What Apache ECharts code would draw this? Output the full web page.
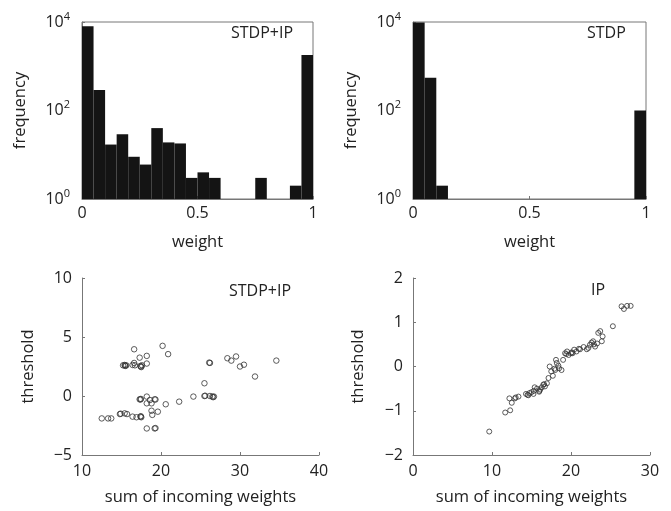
<!DOCTYPE html>
<html><head><meta charset="utf-8">
<script src="https://cdn.jsdelivr.net/npm/echarts@6/dist/echarts.min.js"></script>
<style>html,body{margin:0;padding:0;background:#fff}#c{width:671px;height:511px}</style>
</head><body><div id="c"></div>
<script>
// ---- data ----
var binLefts = [0,0.05,0.1,0.15,0.2,0.25,0.3,0.35,0.4,0.45,0.5,0.55,0.6,0.65,0.7,0.75,0.8,0.85,0.9,0.95];
var binWidth = 0.05;
var countsStdpIp = [8000,290,17,29,9,6,40,19,18,3,4,3,0,0,0,3,0,0,2,1800];
var countsStdp   = [9800,550,2,0,0,0,0,0,0,0,0,0,0,0,0,0,0,0,0,100];

var stdpIpSum = [15.2,15.4,15.5,15.6,15.45,16.4,16.6,16.7,17.4,17.5,17.6,17.45,18.2,16.6,17.3,18.2,20.2,20.9,26.1,26.2,28.4,28.9,29.5,30.0,30.5,31.9,34.6,25.5,24.1,25.5,25.6,26.2,26.5,26.6,26.7,22.3,20.6,17.3,17.4,17.45,18.2,18.6,19.2,19.3,18.8,18.2,18.8,19.6,18.9,12.5,13.3,13.7,14.8,14.9,15.4,15.7,16.4,16.9,17.4,17.5,17.45,18.2,19.2,19.3];
var stdpIpThr = [2.6,2.63,2.55,2.6,2.58,2.63,2.8,2.6,2.55,2.45,2.6,2.5,2.75,3.96,3.25,3.4,4.25,3.55,2.83,2.8,3.2,3.0,3.35,2.5,2.65,1.65,3.0,1.08,-0.05,0.0,0.02,0.0,-0.05,-0.1,-0.05,-0.48,-0.7,-0.28,-0.3,-0.25,-0.05,-0.34,-0.28,-0.3,-0.62,-0.62,-1.25,-1.33,-1.6,-1.9,-1.9,-1.9,-1.53,-1.5,-1.47,-1.53,-1.75,-1.8,-1.75,-1.8,-1.72,-2.75,-2.75,-2.72];

var ipSum = [9.65,11.67,12.3,12.2,12.5,12.9,13.35,14.3,14.5,14.75,15.0,15.25,15.4,15.7,15.97,16.1,16.3,16.5,16.7,16.95,17.15,17.3,17.5,17.7,18.0,18.2,18.1,18.5,18.8,19.0,19.25,19.5,19.7,20.1,20.2,20.4,20.7,21.15,21.6,22.0,22.2,22.4,22.6,22.8,23.05,23.45,23.7,24.0,23.9,25.3,26.4,26.7,27.1,27.55,14.6,16.0,16.6,17.9,18.4,19.4,20.0,21.0,22.9,23.3,13.0,15.3];
var ipThr = [-1.47,-1.04,-0.99,-0.72,-0.82,-0.72,-0.68,-0.62,-0.64,-0.6,-0.58,-0.62,-0.47,-0.5,-0.57,-0.52,-0.47,-0.41,-0.45,-0.38,-0.26,0.0,-0.11,-0.21,-0.08,0.08,0.15,-0.04,-0.08,0.15,0.3,0.34,0.26,0.32,0.3,0.38,0.34,0.39,0.44,0.39,0.42,0.49,0.54,0.57,0.45,0.76,0.8,0.68,0.57,0.91,1.36,1.3,1.37,1.37,-0.65,-0.55,-0.4,-0.05,0.02,0.28,0.3,0.4,0.5,0.52,-0.7,-0.55];

// ---- build ----
function hist(counts){
  var d=[];
  for(var i=0;i<counts.length;i++){ if(counts[i]>0) d.push([binLefts[i],binLefts[i]+binWidth,counts[i]]); }
  return d;
}
function zip(a,b){var d=[];for(var i=0;i<a.length;i++)d.push([a[i],b[i]]);return d;}
function renderBar(params, api){
  var x0=api.value(0), x1=api.value(1), c=api.value(2);
  var p0=api.coord([x0,c]), p1=api.coord([x1,1]);
  return {type:'rect',shape:{x:p0[0],y:p0[1],width:p1[0]-p0[0],height:p1[1]-p0[1]},style:{fill:'#141414'}};
}
var FONT='Open Sans';
var TXT='#222';
var AX='#777';
var FS=16;
function minus(v){return String(v).replace('-','\u2212');}
function logFmt(v){var e=Math.round(Math.log10(v));return '{b|10}{s|'+e+'}';}
var logRich={b:{fontSize:FS,fontFamily:FONT,color:TXT},s:{fontSize:11,fontFamily:FONT,color:TXT,padding:[0,0,11,0]}};

function xAx(grid,min,max,interval,name,opts){
  return Object.assign({gridIndex:grid,type:'value',min:min,max:max,interval:interval,
    name:name,nameLocation:'middle',nameGap:opts.nameGap,
    nameTextStyle:{fontFamily:FONT,fontSize:16.5,color:TXT},
    axisLine:{show:true,onZero:false,lineStyle:{color:AX,width:1}},
    axisTick:{show:true,inside:true,length:3,lineStyle:{color:AX}},
    axisLabel:{fontFamily:FONT,fontSize:FS,color:TXT,margin:opts.margin,formatter:minus,showMinLabel:true,showMaxLabel:true},
    splitLine:{show:false}},opts.extra||{});
}
function yAx(grid,min,max,interval,name,opts){
  return Object.assign({gridIndex:grid,type:'value',min:min,max:max,interval:interval,
    name:name,nameLocation:'middle',nameGap:opts.nameGap,nameRotate:90,
    nameTextStyle:{fontFamily:FONT,fontSize:16.5,color:TXT},
    axisLine:{show:true,onZero:false,lineStyle:{color:AX,width:1}},
    axisTick:{show:true,inside:true,length:3,lineStyle:{color:AX}},
    axisLabel:{fontFamily:FONT,fontSize:FS,color:TXT,margin:opts.margin,formatter:minus,showMinLabel:true,showMaxLabel:true},
    splitLine:{show:false}},opts.extra||{});
}

var xAxes=[
  xAx(0,0,1,0.5,'weight',{nameGap:35,margin:6}),
  xAx(1,0,1,0.5,'weight',{nameGap:35,margin:6}),
  xAx(2,10,40,10,'sum of incoming weights',{nameGap:34,margin:8}),
  xAx(3,0,30,10,'sum of incoming weights',{nameGap:34,margin:8})
];
var logExtra={type:'log',logBase:10,axisLabel:{formatter:logFmt,rich:logRich,margin:12,fontSize:FS,color:TXT}};
var yAxes=[
  yAx(0,1,10000,2,'frequency',{nameGap:53,margin:12,extra:logExtra}),
  yAx(1,1,10000,2,'frequency',{nameGap:53,margin:12,extra:logExtra}),
  yAx(2,-5,10,5,'threshold',{nameGap:45,margin:10}),
  yAx(3,-2,2,1,'threshold',{nameGap:46,margin:10})
];

var circ={color:'transparent',borderColor:'#333',borderWidth:1};
var option={
  animation:false,
  grid:[
    {left:82,top:22,width:231,height:177,show:true,borderColor:AX,borderWidth:1,backgroundColor:'transparent'},
    {left:413,top:22,width:233,height:177,show:true,borderColor:AX,borderWidth:1,backgroundColor:'transparent'},
    {left:82,top:278,width:237,height:177},
    {left:413,top:278,width:237,height:177}
  ],
  xAxis:xAxes, yAxis:yAxes,
  series:[
    {type:'custom',xAxisIndex:0,yAxisIndex:0,renderItem:renderBar,encode:{x:[0,1],y:2},data:hist(countsStdpIp),clip:true},
    {type:'custom',xAxisIndex:1,yAxisIndex:1,renderItem:renderBar,encode:{x:[0,1],y:2},data:hist(countsStdp),clip:true},
    {type:'scatter',xAxisIndex:2,yAxisIndex:2,symbol:'circle',symbolSize:5.5,itemStyle:circ,data:zip(stdpIpSum,stdpIpThr)},
    {type:'scatter',xAxisIndex:3,yAxisIndex:3,symbol:'circle',symbolSize:5,itemStyle:circ,data:zip(ipSum,ipThr)}
  ],
  graphic:[
    {type:'text',left:231,top:25,style:{text:'STDP+IP',font:'16px "Open Sans"',fill:TXT}},
    {type:'text',left:587,top:25,style:{text:'STDP',font:'16px "Open Sans"',fill:TXT}},
    {type:'text',left:229,top:283,style:{text:'STDP+IP',font:'16px "Open Sans"',fill:TXT}},
    {type:'text',left:591,top:282,style:{text:'IP',font:'16px "Open Sans"',fill:TXT}}
  ]
};
var chart=echarts.init(document.getElementById('c'),null,{renderer:'canvas'});
chart.setOption(option);
</script></body></html>
